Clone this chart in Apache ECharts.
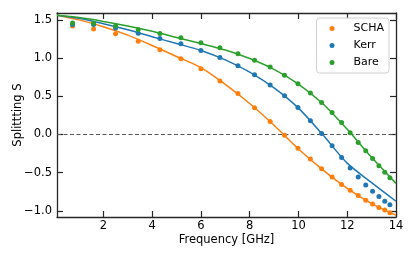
<!DOCTYPE html>
<html>
<head>
<meta charset="utf-8">
<script src="https://cdn.jsdelivr.net/npm/echarts@6/dist/echarts.min.js"></script>
<style>html,body{margin:0;padding:0;background:#fff;}#c{width:415px;height:257px;}</style>
</head>
<body>
<div id="c"></div>
<script>
// measured points (shared frequencies)
var freq = [0.74,1.6,2.5,3.43,4.32,5.18,6.0,6.78,7.52,8.2,8.84,9.43,9.98,10.49,10.95,11.38,11.77,12.12,12.45,12.76,13.04,13.3,13.54,13.75];
var scha = [1.42,1.38,1.32,1.22,1.11,0.99,0.86,0.70,0.535,0.35,0.17,-0.01,-0.18,-0.32,-0.45,-0.555,-0.655,-0.73,-0.80,-0.86,-0.91,-0.955,-0.99,-1.025];
var kerr = [1.44,1.44,1.395,1.326,1.257,1.186,1.10,1.009,0.90,0.782,0.648,0.508,0.352,0.179,0.013,-0.147,-0.30,-0.438,-0.555,-0.66,-0.743,-0.812,-0.874,-0.92];
var bare = [1.46,1.456,1.421,1.374,1.322,1.265,1.199,1.134,1.056,0.97,0.883,0.774,0.665,0.544,0.417,0.287,0.156,0.022,-0.104,-0.213,-0.313,-0.408,-0.495,-0.565];
// fitted curves
var fitFreq = [0.1,1,2,3,4,5,6,7,8,9,10,11,12,13,14];
var schaFit = [1.56,1.50,1.41,1.30,1.165,1.02,0.875,0.655,0.405,0.12,-0.19,-0.463,-0.705,-0.904,-1.056];
var kerrFit = [1.56,1.52,1.45,1.37,1.28,1.19,1.10,0.977,0.817,0.61,0.345,-0.005,-0.375,-0.63,-0.874];
var bareFit = [1.56,1.53,1.48,1.42,1.35,1.27,1.19,1.105,0.995,0.853,0.66,0.402,0.068,-0.299,-0.64];
var xTicks = [2,4,6,8,10,12,14];
var yTicks = [-1.0,-0.5,0.0,0.5,1.0,1.5];
var names = ['SCHA','Kerr','Bare'];
var colors = ['#ff7f0e','#1f77b4','#2ca02c'];

function pairs(xs, ys){ return xs.map(function(x,i){return [x, ys[i]];}); }

var font = '"DejaVu Sans", sans-serif';
var axisCol = '#262626';
function xAx(pos, show){
  return {type:'value', position:pos, min:0.1, max:14,
    axisLine:{show:true, onZero:false, lineStyle:{color:axisCol, width:1.3}},
    axisTick:{show:true, inside:true, length:6, customValues:xTicks, lineStyle:{color:axisCol, width:1.2}},
    axisLabel:{show:show, customValues:xTicks, margin:3, fontFamily:font, fontSize:11.5, color:'#000'},
    splitLine:{show:false},
    name: show ? 'Frequency [GHz]' : '', nameLocation:'middle', nameGap:17, nameMoveOverlap:false,
    nameTextStyle:{fontFamily:font, fontSize:11.5, color:'#000'}};
}
function yAx(pos, show){
  return {type:'value', position:pos, min:-1.08, max:1.59,
    axisLine:{show:true, onZero:false, lineStyle:{color:axisCol, width:1.3}},
    axisTick:{show:true, inside:true, length:6, customValues:yTicks, lineStyle:{color:axisCol, width:1.2}},
    axisLabel:{show:show, customValues:yTicks, margin:5, fontFamily:font, fontSize:11.5, color:'#000',
      formatter:function(v){return v.toFixed(1).replace('-', '\u2212');}},
    splitLine:{show:false},
    name: show ? 'Splittting S' : '', nameLocation:'middle', nameGap:33, nameMoveOverlap:false,
    nameTextStyle:{fontFamily:font, fontSize:11.5, color:'#000'}};
}

var series = [];
var fits = [schaFit, kerrFit, bareFit];
var pts = [scha, kerr, bare];
for (var i=0;i<3;i++){
  series.push({name:names[i]+' fit', type:'line', smooth:0.3, showSymbol:false, silent:true,
    data:pairs(fitFreq, fits[i]), lineStyle:{color:colors[i], width:1.5}, itemStyle:{color:colors[i]}, z:2});
}
series[0].markLine = {silent:true, symbol:['none','none'], label:{show:false},
  lineStyle:{color:'#555', type:[4,2.5], width:1}, data:[{yAxis:0}], z:1};
for (var i=0;i<3;i++){
  series.push({name:names[i], type:'scatter', symbol:'circle', symbolSize:5,
    data:pairs(freq, pts[i]), itemStyle:{color:colors[i], opacity:1}, z:3});
}

var chart = echarts.init(document.getElementById('c'), null, {renderer:'canvas'});
chart.setOption({
  animation:false,
  backgroundColor:'#fff',
  grid:{left:57, right:19, top:13, bottom:40, containLabel:false, outerBoundsMode:'none'},
  xAxis:[xAx('bottom', true), xAx('top', false)],
  yAxis:[yAx('left', true), yAx('right', false)],
  legend:{data:names, orient:'vertical', right:26, top:18, icon:'circle', itemWidth:33, itemHeight:5,
    itemGap:4, padding:[4,5,4,13], borderColor:'#d0d0d0', borderWidth:1, borderRadius:3,
    backgroundColor:'rgba(255,255,255,0.8)',
    textStyle:{fontFamily:font, fontSize:11, color:'#000', lineHeight:13}},
  series:series
});
</script>
</body>
</html>
